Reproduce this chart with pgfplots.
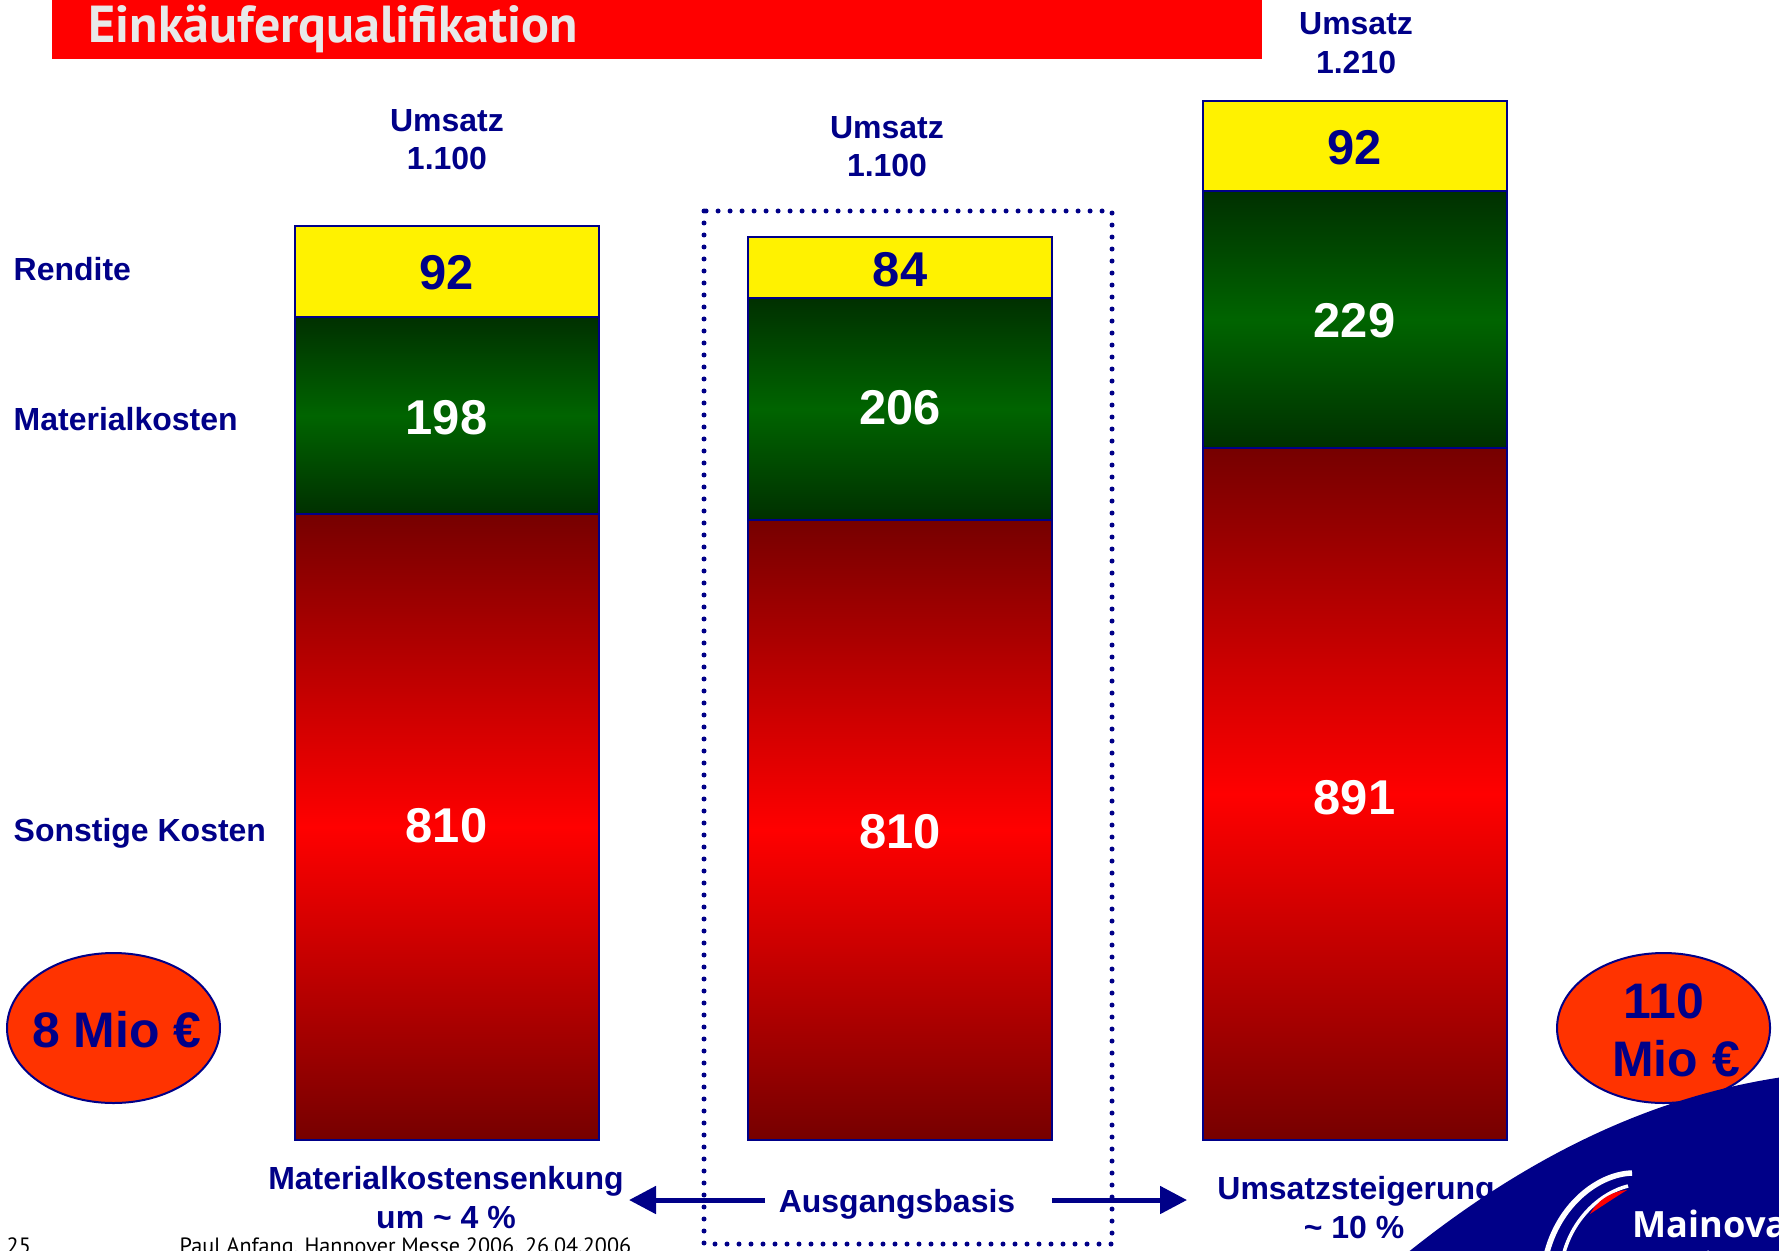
\documentclass[border=0pt]{standalone}
\usepackage{pgfplots}
\pgfplotsset{compat=1.18}
\usepackage{pgfplotstable}
\usepackage{fontspec}
\setmainfont{Liberation Sans}
\newfontfamily\titlefont{PT Sans}
\newfontfamily\logofont{Open Sans}
\usetikzlibrary{arrows.meta}
\definecolor{navy}{RGB}{0,0,136}
\definecolor{orng}{RGB}{255,51,0}
\definecolor{dkred}{RGB}{118,0,0}
\definecolor{dkgreen}{RGB}{0,48,0}
\definecolor{mdgreen}{RGB}{0,100,0}
\definecolor{ttl}{RGB}{232,232,232}
\newcommand\fs[1]{\fontsize{#1}{#1}\selectfont}

% visual segment heights of the stacked bars (slide is not drawn to scale)
\pgfplotstableread{
x      red  green yellow
446.5  626  197   91
}\barA
\pgfplotstableread{
x      red  green yellow
900    620  222   61
}\barB
\pgfplotstableread{
x      red  green yellow
1354.5 692  257   90
}\barC
% printed values of the segments
\pgfplotstableread{
x      y    label
446.5  314  810
446.5  722  198
900    308  810
900    732  206
1354.5 342  891
1354.5 819  229
}\whitelabels
\pgfplotstableread{
x      y    label
446.5  867  92
900    870  84
1354.5 992  92
}\navylabels

\pgfplotsset{canvas/.style={
  at={(0,0)}, anchor=north west,
  scale only axis, width=177.9mm, height=125.1mm,
  xmin=0, xmax=1779, ymin=-111, ymax=1140,
  axis lines=none, clip=false}}

\newcommand\onebar[1]{%
\begin{axis}[canvas, ybar stacked, bar width=304]
\addplot[draw=navy, line width=0.2mm, top color=dkred, bottom color=dkred, middle color=red] table[x=x,y=red]{#1};
\addplot[draw=navy, line width=0.2mm, top color=dkgreen, bottom color=dkgreen, middle color=mdgreen] table[x=x,y=green]{#1};
\addplot[draw=navy, line width=0.2mm, fill=yellow] table[x=x,y=yellow]{#1};
\end{axis}}

\begin{document}
\begin{tikzpicture}
\useasboundingbox (0,0) rectangle (177.9mm,-125.1mm);
\clip (0,0) rectangle (177.9mm,-125.1mm);

\begin{scope}[x=0.1mm,y=-0.1mm]
  \fill[red] (52,-5) rectangle (1262,59);
  \node[anchor=base west, inner sep=0, text=ttl, font=\titlefont\bfseries\fs{14.8}] at (88,43) {Einkäuferqualifikation};
\end{scope}

\onebar{\barA}
\onebar{\barB}
\onebar{\barC}

\begin{axis}[canvas]
\addplot[draw=none, mark=none, nodes near coords, point meta=explicit symbolic,
  nodes near coords style={anchor=center, inner sep=0pt, text=white, font=\fs{13.9}\bfseries}]
  table[x=x,y=y,meta=label]{\whitelabels};
\addplot[draw=none, mark=none, nodes near coords, point meta=explicit symbolic,
  nodes near coords style={anchor=center, inner sep=0pt, text=navy, font=\fs{13.9}\bfseries}]
  table[x=x,y=y,meta=label]{\navylabels};
\end{axis}

\begin{scope}[x=0.1mm,y=-0.1mm]
  \tikzset{lab/.style={anchor=base, inner sep=0, text=navy, font=\fs{9.1}\bfseries}}
  % Umsatz labels
  \node[lab] at (447,132) {Umsatz};
  \node[lab] at (447,170) {1.100};
  \node[lab] at (887,139) {Umsatz};
  \node[lab] at (887,177) {1.100};
  \node[lab] at (1356,35) {Umsatz};
  \node[lab] at (1356,74) {1.210};
  % row labels
  \node[lab, anchor=base west] at (13,281) {Rendite};
  \node[lab, anchor=base west] at (13,431) {Materialkosten};
  \node[lab, anchor=base west] at (13,841) {Sonstige Kosten};
  % dotted box
  \draw[navy, line width=0.5mm, line cap=round, dash pattern=on 0pt off 1.2mm] (704,211) rectangle (1112,1244);
  % ellipses
  \draw[navy, line width=0.2mm, fill=orng] (113.5,1028) ellipse [x radius=106.5, y radius=75];
  \node[lab, font=\fs{14.2}\bfseries] at (117,1047) {8 Mio €};
  \draw[navy, line width=0.2mm, fill=orng] (1663.5,1028) ellipse [x radius=106.5, y radius=75];
  \node[lab, font=\fs{14.2}\bfseries] at (1664,1018) {110};
  \node[lab, font=\fs{14.2}\bfseries] at (1676,1076) {Mio €};
  % arrows
  \draw[navy, line width=0.5mm, -{Triangle[length=2.7mm, width=2.7mm]}] (765,1200) -- (629,1200);
  \draw[navy, line width=0.5mm, -{Triangle[length=2.7mm, width=2.7mm]}] (1052,1200) -- (1187,1200);
  % bottom texts
  \node[lab] at (446,1189) {Materialkostensenkung};
  \node[lab] at (446,1228) {um \textasciitilde{} 4 \%};
  \node[lab] at (897,1212) {Ausgangsbasis};
  \node[lab] at (1356,1199) {Umsatzsteigerung};
  \node[lab] at (1354,1238) {\textasciitilde{} 10 \%};
  % footer
  \node[anchor=base west, inner sep=0, font=\titlefont\fs{6.3}] at (6,1253) {25};
  \node[anchor=base west, inner sep=0, font=\titlefont\fs{6.3}] at (179,1253) {Paul Anfang, Hannover Messe 2006, 26.04.2006};
  % swoosh and logo
  \fill[navy] (1396,1262) .. controls (1520,1160) and (1650,1095) .. (1790,1076) -- (1790,1262) -- cycle;
  \draw[white, line width=0.55mm] (1546,1256) .. controls (1558,1205) and (1598,1174) .. (1632,1173);
  \draw[white, line width=0.35mm] (1563,1256) .. controls (1573,1216) and (1603,1192) .. (1628,1186);
  \fill[red] (1590,1214) .. controls (1598,1199) and (1613,1191) .. (1627,1190) .. controls (1614,1198) and (1602,1206) .. cycle;
  \node[anchor=base west, inner sep=0, text=white, font=\logofont\bfseries\fs{10.3}] at (1632,1237) {Mainova};
  \node[anchor=base west, inner sep=0, text=white, font=\logofont\fs{4.3}] at (1634,1262) {Strom. Erdgas. Wärme.};
\end{scope}
\end{tikzpicture}
\end{document}
